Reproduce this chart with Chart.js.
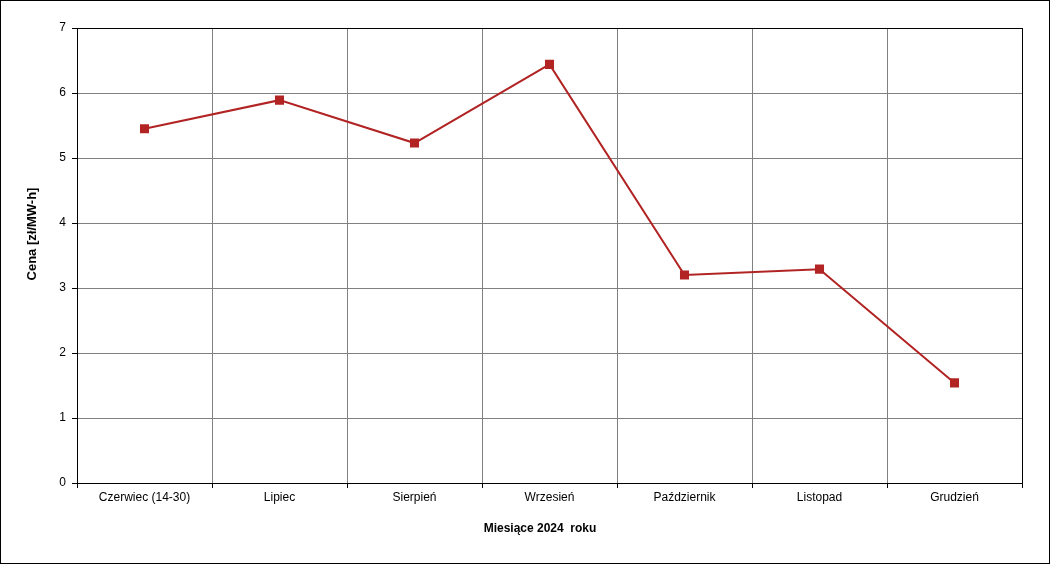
<!DOCTYPE html>
<html>
<head>
<meta charset="utf-8">
<script src="https://cdn.jsdelivr.net/npm/chart.js@4/dist/chart.umd.min.js"></script>
<style>
  html, body { margin: 0; padding: 0; background: #fff; }
  #wrap { position: absolute; left: 0; top: 0; width: 1050px; height: 564px; box-sizing: border-box; border: 1px solid #000; }
  #chart { display: block; }
</style>
</head>
<body>
<div id="wrap"><canvas id="chart" width="1048" height="562"></canvas></div>
<script>
// miesiące i ceny
const months = ['Czerwiec (14-30)', 'Lipiec', 'Sierpień', 'Wrzesień', 'Październik', 'Listopad', 'Grudzień'];
const prices = [5.45, 5.89, 5.23, 6.44, 3.20, 3.29, 1.54];
const yTicks = [0, 1, 2, 3, 4, 5, 6, 7];
const xTitle = 'Miesiące 2024  roku';
const yTitle = 'Cena [zł/MW-h]';

const font = { family: '"Liberation Sans", Arial, sans-serif', size: 12 };

// tytuły osi rysowane ręcznie (Excel nie centruje ich dokładnie na obszarze wykresu)
const axisTitles = {
  id: 'axisTitles',
  afterDraw(chart) {
    const c = chart.ctx;
    c.save();
    c.fillStyle = '#000';
    c.font = 'bold 12px ' + font.family;
    c.textAlign = 'center';
    c.textBaseline = 'middle';
    c.fillText(xTitle, 539, 528);
    c.font = 'bold 13px ' + font.family;
    c.translate(31, 233);
    c.rotate(-Math.PI / 2);
    c.fillText(yTitle, 0, 0);
    c.restore();
    // ramka obszaru wykresu
    const a = chart.chartArea;
    c.save();
    c.strokeStyle = '#000';
    c.lineWidth = 1;
    c.strokeRect(Math.round(a.left) + 0.5, Math.round(a.top) + 0.5, Math.round(a.right - a.left), Math.round(a.bottom - a.top));
    c.restore();
  }
};

new Chart(document.getElementById('chart'), {
  type: 'line',
  data: {
    labels: months,
    datasets: [{
      data: prices,
      borderColor: '#b22424',
      backgroundColor: '#b22424',
      borderWidth: 2,
      tension: 0,
      pointStyle: 'rect',
      pointRadius: 6.4,
      pointBorderWidth: 0,
      pointBackgroundColor: '#b22424'
    }]
  },
  options: {
    responsive: false,
    animation: false,
    layout: { padding: { top: 27, right: 27, left: 0, bottom: 0 } },
    plugins: { legend: { display: false }, tooltip: { enabled: false } },
    scales: {
      x: {
        offset: true,
        grid: { offset: true, color: '#808080', tickColor: '#000', tickLength: 5 },
        border: { color: '#000' },
        ticks: { color: '#000', font: font, padding: 2, maxRotation: 0, autoSkip: false },
        afterFit(s) { s.height = 80; }
      },
      y: {
        min: 0,
        max: 7,
        afterBuildTicks(s) { s.ticks = yTicks.map(v => ({ value: v })); },
        grid: { color: '#808080', tickColor: '#000', tickLength: 5 },
        border: { color: '#000' },
        ticks: { color: '#000', font: font, padding: 6 },
        afterFit(s) { s.width = 76; }
      }
    }
  },
  plugins: [axisTitles]
});
</script>
</body>
</html>
